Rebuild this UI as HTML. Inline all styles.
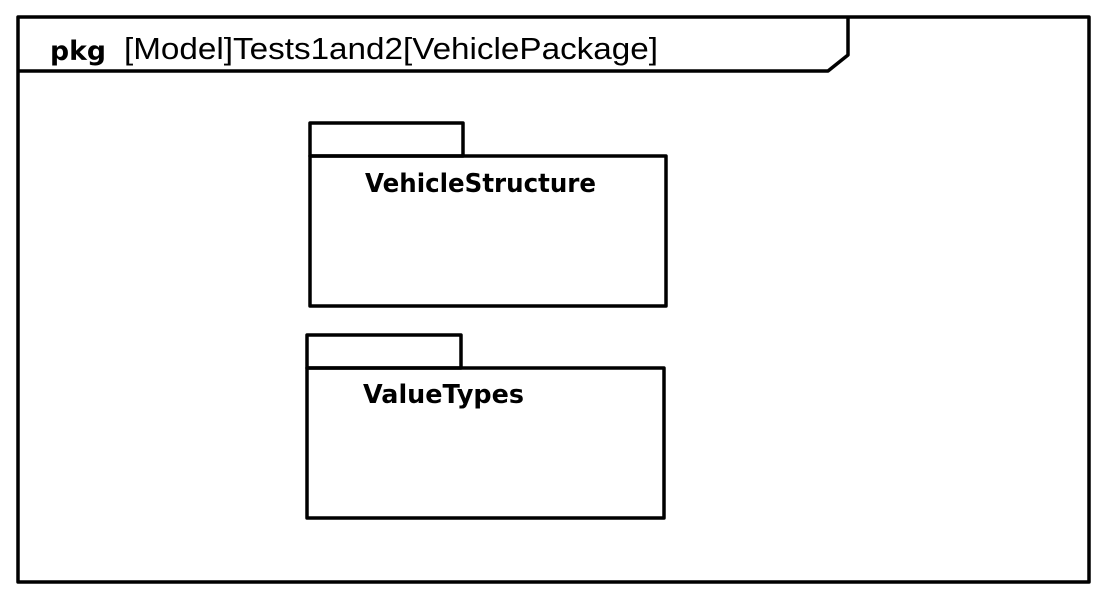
<!DOCTYPE html>
<html><head><style>html,body{margin:0;padding:0;background:#fff}</style></head>
<body>
<svg width="1102" height="598" xmlns="http://www.w3.org/2000/svg">
<rect x="0" y="0" width="1102" height="598" fill="#fff"/>
<g fill="none" stroke="#000" stroke-width="3.5" stroke-linejoin="round">
<rect x="18" y="17" width="1071" height="565"/>
<polyline points="18,71 828,71 848,55 848,17"/>
<rect x="310" y="123" width="153" height="33"/>
<rect x="310" y="156" width="356" height="150"/>
<rect x="307" y="335" width="154" height="33"/>
<rect x="307" y="368" width="357" height="150"/>
</g>
<g font-family="'DejaVu Sans','Liberation Sans',sans-serif" fill="#000">
<text x="50" y="60" font-size="27" font-weight="bold" textLength="56" lengthAdjust="spacingAndGlyphs">pkg</text>
<text x="124" y="59" font-size="31" font-family="'Liberation Sans',sans-serif" textLength="534" lengthAdjust="spacingAndGlyphs">[Model]Tests1and2[VehiclePackage]</text>
<text x="365" y="192" font-size="26" font-weight="bold" textLength="231" lengthAdjust="spacingAndGlyphs">VehicleStructure</text>
<text x="363" y="403" font-size="26" font-weight="bold" textLength="161" lengthAdjust="spacingAndGlyphs">ValueTypes</text>
</g>
</svg>
</body></html>
